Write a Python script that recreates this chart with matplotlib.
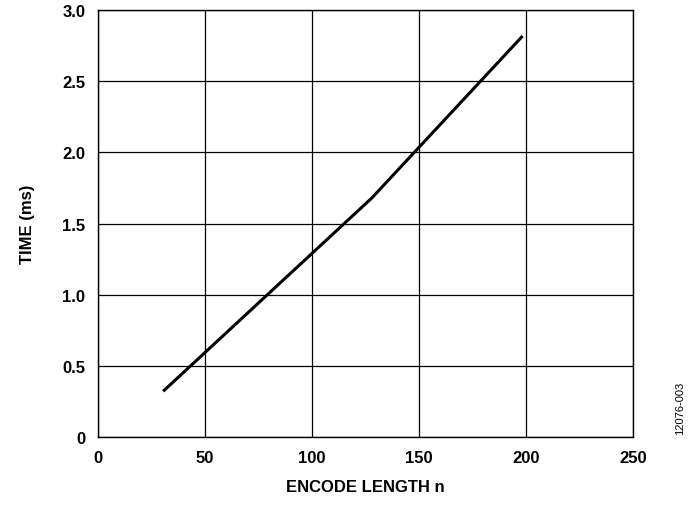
import matplotlib.pyplot as plt

plt.rcParams['font.family'] = ['Liberation Sans', 'DejaVu Sans']

# encode length vs time
encode_len = [31, 128, 198]
time_ms = [0.33, 1.68, 2.81]

xticks = [0, 50, 100, 150, 200, 250]
yticks = [0, 0.5, 1.0, 1.5, 2.0, 2.5, 3.0]
ytick_labels = ["0", "0.5", "1.0", "1.5", "2.0", "2.5", "3.0"]

fig = plt.figure(figsize=(6.9, 5.06), dpi=100)
ax = fig.add_axes([0.142, 0.134, 0.775, 0.844])

ax.plot(encode_len, time_ms, color='black', lw=2.2)

ax.set_xlim(0, 250)
ax.set_ylim(0, 3.0)
ax.set_xticks(xticks)
ax.set_yticks(yticks)
ax.set_yticklabels(ytick_labels)
ax.grid(True, color='black', lw=0.9)
for s in ax.spines.values():
    s.set_linewidth(1.0)
ax.tick_params(length=0, pad=9, labelsize=12)
for lbl in ax.get_xticklabels() + ax.get_yticklabels():
    lbl.set_fontweight('bold')

ax.set_xlabel("ENCODE LENGTH n", fontsize=12, fontweight='bold', labelpad=10)
ax.set_ylabel("TIME (ms)", fontsize=12, fontweight='bold', labelpad=20)

fig.text(0.985, 0.14, "12076-003", rotation=90, fontsize=8, ha='center', va='bottom')

fig.savefig("out.png", dpi=100)
